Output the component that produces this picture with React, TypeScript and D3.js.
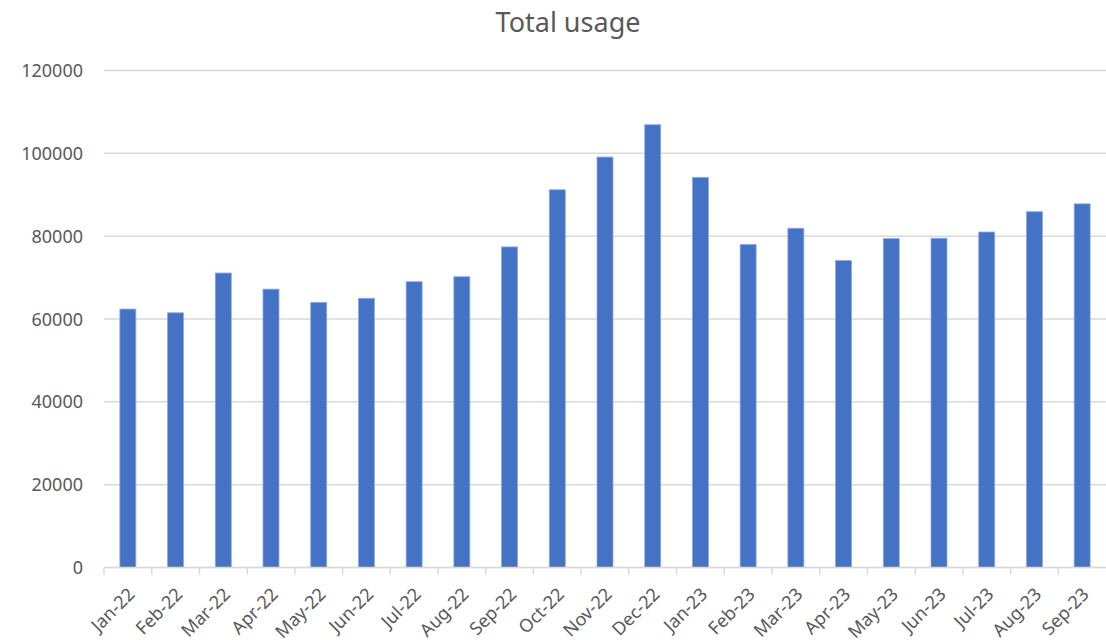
import * as d3 from "d3";

const months = [
  "Jan-22", "Feb-22", "Mar-22", "Apr-22", "May-22", "Jun-22", "Jul-22",
  "Aug-22", "Sep-22", "Oct-22", "Nov-22", "Dec-22", "Jan-23", "Feb-23",
  "Mar-23", "Apr-23", "May-23", "Jun-23", "Jul-23", "Aug-23", "Sep-23",
];
const usage = [
  62400, 61500, 71100, 67200, 64000, 65000, 69000,
  70200, 77400, 91200, 99100, 106900, 94200, 78000,
  81900, 74100, 79400, 79500, 81000, 85900, 87800,
];
const yTicks = [0, 20000, 40000, 60000, 80000, 100000, 120000];

export default function App() {
  const width = 1106;
  const height = 640;
  const left = 104;
  const right = 1106;
  const top = 70.5;
  const bottom = 567.5;
  const textColor = "#595959";
  const font = "'Noto Sans', 'Open Sans', sans-serif";

  const x = d3.scaleBand<string>()
    .domain(months)
    .range([left, right])
    .paddingInner(0.665)
    .paddingOuter(0.3325);

  const xSlots = d3.scaleBand<string>()
    .domain(months)
    .range([left, right])
    .padding(0);

  const y = d3.scaleLinear()
    .domain([0, 120000])
    .range([bottom, top]);

  return (
    <svg
      width={width}
      height={height}
      style={{ position: "absolute", left: 0, top: 0, background: "#fff" }}
      fontFamily={font}
    >
      <text
        x={568}
        y={31.5}
        textAnchor="middle"
        fontSize={27}
        fill={textColor}
      >
        Total usage
      </text>

      {yTicks.map(t => (
        <g key={t}>
          <line
            x1={left}
            x2={right}
            y1={y(t)}
            y2={y(t)}
            stroke="#D9D9D9"
            strokeWidth={1.5}
          />
          <text
            x={83}
            y={y(t) + 6.5}
            textAnchor="end"
            fontSize={18}
            fill={textColor}
          >
            {t}
          </text>
        </g>
      ))}

      {months.map((m, i) => (
        <rect
          key={m}
          x={x(m)}
          y={y(usage[i])}
          width={x.bandwidth()}
          height={bottom - y(usage[i])}
          fill="#4472C4"
          stroke="#8FAADC"
          strokeWidth={0.8}
        />
      ))}

      <line x1={left} x2={right} y1={bottom} y2={bottom} stroke="#D9D9D9" strokeWidth={1.5} />
      {months.map(m => (
        <line
          key={m + "-tick"}
          x1={xSlots(m)}
          x2={xSlots(m)}
          y1={bottom}
          y2={bottom + 7}
          stroke="#D9D9D9"
          strokeWidth={1.5}
        />
      ))}

      {months.map(m => {
        const cx = (x(m) ?? 0) + x.bandwidth() / 2;
        return (
          <text
            key={m + "-label"}
            transform={`translate(${cx + 8}, ${bottom + 28}) rotate(-45)`}
            textAnchor="end"
            fontSize={18}
            fill={textColor}
          >
            {m}
          </text>
        );
      })}
    </svg>
  );
}
